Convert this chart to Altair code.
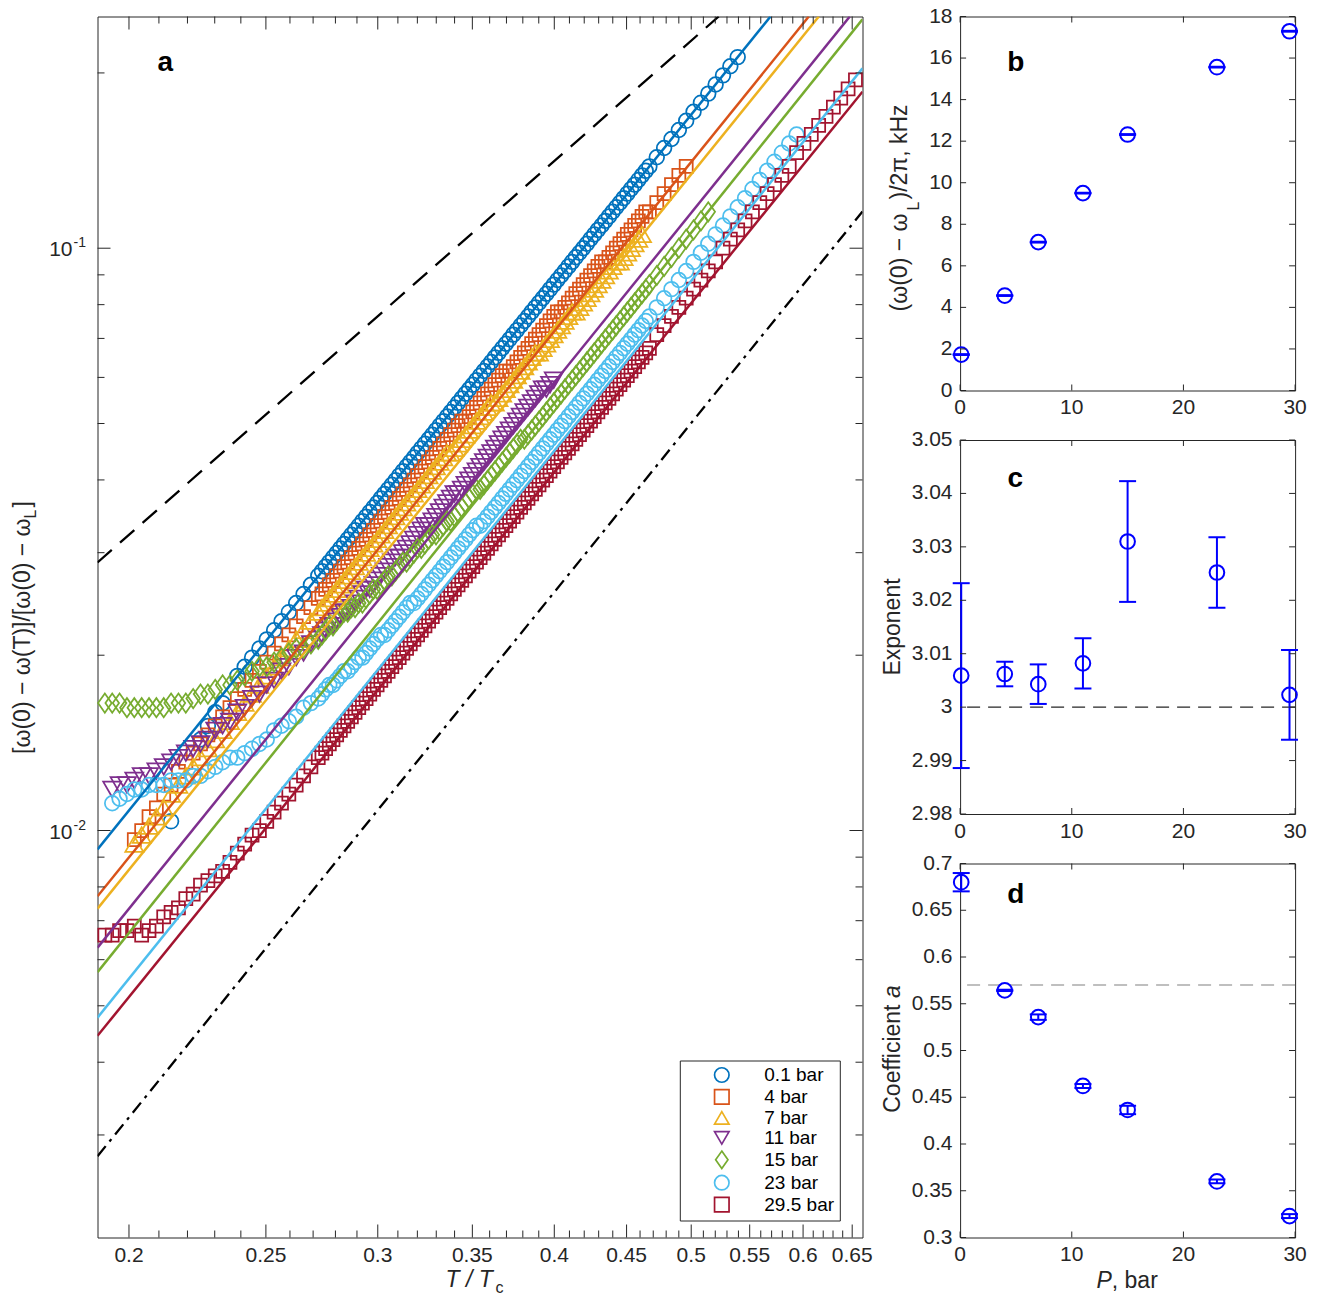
import altair as alt
import pandas as pd

FONT = "Liberation Sans"
INK = "#262626"

# ------------------------------------------------------------------ panel a data
series_labels = ["0.1 bar", "4 bar", "7 bar", "11 bar", "15 bar", "23 bar", "29.5 bar"]

# common temperature grid T/Tc (each series uses a contiguous part of it)
T_grid = [
    0.19000, 0.19229, 0.19461, 0.19696, 0.19934, 0.20174, 0.20418, 0.20664, 0.20913, 0.21165,
    0.21421, 0.21679, 0.21941, 0.22206, 0.22473, 0.22745, 0.23019, 0.23297, 0.23578, 0.23862,
    0.24150, 0.24442, 0.24736, 0.25035, 0.25337, 0.25643, 0.25952, 0.26265, 0.26582, 0.26903,
    0.27227, 0.27556, 0.27888, 0.28225, 0.28565, 0.28910, 0.29259, 0.29612, 0.29969, 0.30330,
    0.30696, 0.31067, 0.31442, 0.31821, 0.32205, 0.32593, 0.32987, 0.33385, 0.33787, 0.34195,
    0.34608, 0.35025, 0.35447, 0.35875, 0.36308, 0.36746, 0.37189, 0.37639, 0.38093, 0.38552,
    0.39017, 0.39488, 0.39964, 0.40446, 0.40934, 0.41428, 0.41928, 0.42434, 0.42946, 0.43464,
    0.43988, 0.44519, 0.45056, 0.45600, 0.46150, 0.46706, 0.47270, 0.47840, 0.48417, 0.49002,
    0.49593, 0.50191, 0.50796, 0.51409, 0.52030, 0.52658, 0.53293, 0.53936, 0.54587, 0.55246,
    0.55912, 0.56586, 0.57269, 0.57960, 0.58659, 0.59367, 0.60083, 0.60808, 0.61542, 0.62285,
    0.63036, 0.63797, 0.64566, 0.65345,
]
start_index = [10, 5, 5, 2, 1, 2, 1]

# intermediate temperatures of the denser mid-range sampling (0.274 ... 0.464)
T_mid = [
    0.27391, 0.27722, 0.28056, 0.28395, 0.28737, 0.29084, 0.29435, 0.29790, 0.30149, 0.30512,
    0.30881, 0.31254, 0.31631, 0.32012, 0.32399, 0.32789, 0.33185, 0.33586, 0.33990, 0.34401,
    0.34816, 0.35236, 0.35660, 0.36091, 0.36526, 0.36967, 0.37413, 0.37865, 0.38322, 0.38784,
    0.39252, 0.39725, 0.40204, 0.40689, 0.41180, 0.41677, 0.42180, 0.42689, 0.43204, 0.43725,
    0.44253, 0.44787, 0.45327, 0.45874, 0.46428,
]

ratio_01bar = [
    0.01037, None, None, None, 0.01433, 0.01512, 0.01596, 0.01655, None,
    0.01843, 0.01911, 0.01981, 0.02054, 0.02129, 0.02207, 0.02288, 0.02371, 0.02458, 0.02548,
    0.02642, 0.02738, 0.02839, 0.02943, 0.03051, 0.03162, 0.03278, 0.03398, 0.03523, 0.03652,
    0.03786, 0.03924, 0.04068, 0.04217, 0.04371, 0.04532, 0.04698, 0.04870, 0.05048, 0.05233,
    0.05425, 0.05623, 0.05829, 0.06043, 0.06264, 0.06494, 0.06732, 0.06978, 0.07234, 0.07499,
    0.07774, 0.08058, 0.08354, 0.08660, 0.08977, 0.09306, 0.09647, 0.1000, 0.1037, 0.1075,
    0.1114, 0.1155, 0.1197, 0.1241, 0.1286, 0.1334, 0.1382, 0.1433, 0.1486, 0.1540,
    0.1596, 0.1655, 0.1715, 0.1778, 0.1843, 0.1911, 0.1981, 0.2054, 0.2129,
]
ratio_4bar = [
    0.009647, 0.01000, 0.01056, 0.01094, 0.01155, 0.01197, 0.01264, 0.01310, 0.01358, 0.01408,
    0.01459, 0.01513, 0.01568, 0.01625, 0.01685, 0.01747, 0.01811, 0.01877, 0.01946, 0.02017,
    0.02091, 0.02167, 0.02247, 0.02329, 0.02414, 0.02503, 0.02595, 0.02690, 0.02788, 0.02890,
    0.02996, 0.03106, 0.03220, 0.03338, 0.03460, 0.03587, 0.03718, 0.03854, 0.03995, 0.04142,
    0.04294, 0.04451, 0.04614, 0.04783, 0.04958, 0.05048, 0.05233, 0.05425, 0.05623, 0.05829,
    0.06043, 0.06153, 0.06378, 0.06612, 0.06854, 0.07105, 0.07365, 0.07635, 0.07774, 0.08058,
    0.08354, 0.08660, 0.08977, 0.09306, 0.09475, 0.09822, 0.1018, 0.1056, 0.1094, 0.1134,
    0.1155, 0.1197, 0.1241, 0.1286, 0.1334, 0.1382,
]
ratio_7bar = [
    0.009475, 0.009822, 0.01018, 0.01056, 0.01094, 0.01155, 0.01197, 0.01241, 0.01286, 0.01334,
    0.01382, 0.01433, 0.01486, 0.01540, 0.01596, 0.01655, 0.01715, 0.01778, 0.01843, 0.01911,
    0.01981, 0.02054, 0.02129, 0.02207, 0.02288, 0.02371, 0.02458, 0.02548, 0.02642, 0.02738,
    0.02839, 0.02943, 0.03051, 0.03162, 0.03278, 0.03398, 0.03523, 0.03652, 0.03786, 0.03924,
    0.04068, 0.04217, 0.04371, 0.04451, 0.04614, 0.04783, 0.04958, 0.05140, 0.05328, 0.05425,
    0.05623, 0.05829, 0.06043, 0.06264, 0.06494, 0.06612, 0.06854, 0.07105, 0.07365, 0.07635,
    0.07774, 0.08058, 0.08354, 0.08660, 0.08977, 0.09306, 0.09475, 0.09822, 0.1018, 0.1056,
]
ratio_11bar = [
    0.01176, 0.01197, 0.01197, 0.01219, 0.01241, 0.01241, 0.01264, 0.01286, 0.01310, 0.01334,
    0.01358, 0.01382, 0.01408, 0.01433, 0.01486, 0.01513, 0.01540, 0.01596, 0.01625, 0.01685,
    0.01715, 0.01778, 0.01811, 0.01877, 0.01911, 0.01981, 0.02017, 0.02091, 0.02129, 0.02207,
    0.02247, 0.02329, 0.02371, 0.02458, 0.02548, 0.02595, 0.02690, 0.02788, 0.02890, 0.02943,
    0.03051, 0.03162, 0.03278, 0.03338, 0.03460, 0.03587, 0.03718, 0.03786, 0.03924, 0.04068,
    0.04217, 0.04371, 0.04532, 0.04698, 0.04870, 0.05048, 0.05233, 0.05425, 0.05623, 0.05726,
    0.05935,
]
ratio_15bar = [
    0.01655, 0.01655, 0.01655, 0.01625, 0.01625, 0.01625, 0.01625, 0.01625, 0.01625, 0.01655,
    0.01655, 0.01655, 0.01685, 0.01715, 0.01715, 0.01747, 0.01778, 0.01778, 0.01811, 0.01843,
    0.01877, 0.01911, 0.01911, 0.01946, 0.01981, 0.02017, 0.02054, 0.02054, 0.02091, 0.02129,
    0.02207, 0.02247, 0.02329, 0.02371, 0.02414, 0.02458, 0.02548, 0.02595, 0.02690, 0.02738,
    0.02839, 0.02890, 0.02996, 0.03051, 0.03162, 0.03220, 0.03338, 0.03398, 0.03523, 0.03652,
    0.03786, 0.03854, 0.03995, 0.04142, 0.04294, 0.04451, 0.04614, 0.04698, 0.04870, 0.05048,
    0.05233, 0.05425, 0.05623, 0.05829, 0.06043, 0.06264, 0.06494, 0.06732, 0.06978, 0.07234,
    0.07499, 0.07774, 0.08058, 0.08354, 0.08660, 0.08977, 0.09306, 0.09647, 0.1000, 0.1037,
    0.1075, 0.1114, 0.1155,
]
ratio_23bar = [
    0.01114, 0.01134, 0.01155, 0.01176, 0.01176, 0.01197, 0.01197, 0.01197, 0.01219, 0.01219,
    0.01219, 0.01241, 0.01241, 0.01264, 0.01286, 0.01310, 0.01334, 0.01334, 0.01358, 0.01382,
    0.01408, 0.01433, 0.01486, 0.01513, 0.01540, 0.01568, 0.01625, 0.01655, 0.01685, 0.01747,
    0.01778, 0.01843, 0.01877, 0.01946, 0.01981, 0.02054, 0.02129, 0.02167, 0.02247, 0.02329,
    0.02414, 0.02458, 0.02548, 0.02642, 0.02738, 0.02839, 0.02943, 0.03051, 0.03162, 0.03278,
    0.03338, 0.03460, 0.03587, 0.03718, 0.03854, 0.03995, 0.04142, 0.04294, 0.04451, 0.04614,
    0.04783, 0.04958, 0.05140, 0.05328, 0.05523, 0.05726, 0.05935, 0.06153, 0.06378, 0.06612,
    0.06854, 0.07105, 0.07365, 0.07635, 0.07915, 0.08205, 0.08505, 0.08817, 0.09140, 0.09475,
    0.09822, 0.1018, 0.1056, 0.1094, 0.1134, 0.1176, 0.1219, 0.1264, 0.1310, 0.1358,
    0.1408, 0.1459, 0.1513, 0.1568,
]
ratio_295bar = [
    0.006612, 0.006612, 0.006732, 0.006732, 0.006854, 0.006612, 0.006732, 0.006854, 0.007105, 0.007234,
    0.007365, 0.007635, 0.007774, 0.008058, 0.008205, 0.008354, 0.008505, 0.008817, 0.009140, 0.009475,
    0.009822, 0.01000, 0.01037, 0.01075, 0.01114, 0.01155, 0.01197, 0.01241, 0.01286, 0.01334,
    0.01382, 0.01433, 0.01486, 0.01540, 0.01596, 0.01655, 0.01715, 0.01778, 0.01843, 0.01911,
    0.01981, 0.02054, 0.02129, 0.02207, 0.02288, 0.02371, 0.02458, 0.02548, 0.02642, 0.02738,
    0.02839, 0.02943, 0.03051, 0.03162, 0.03278, 0.03398, 0.03523, 0.03652, 0.03786, 0.03924,
    0.04068, 0.04217, 0.04371, 0.04532, 0.04698, 0.04870, 0.05048, 0.05233, 0.05425, 0.05623,
    0.05829, 0.06043, 0.06264, 0.06494, 0.06732, 0.07105, 0.07365, 0.07635, 0.07915, 0.08205,
    0.08505, 0.08817, 0.09140, 0.09475, 0.1000, 0.1037, 0.1075, 0.1114, 0.1155, 0.1197,
    0.1241, 0.1286, 0.1334, 0.1382, 0.1459, 0.1513, 0.1568, 0.1625, 0.1685, 0.1747,
    0.1811, 0.1877, 0.1946,
]
ratio_series = [ratio_01bar, ratio_4bar, ratio_7bar, ratio_11bar, ratio_15bar, ratio_23bar, ratio_295bar]

# values at the intermediate temperatures T_mid (same series order)
mid_01bar = [
    0.02788, 0.02890, 0.02996, 0.03106, 0.03220, 0.03338, 0.03460, 0.03587, 0.03718, 0.03854,
    0.03995, 0.04142, 0.04294, 0.04451, 0.04614, 0.04783, 0.04958, 0.05140, 0.05328, 0.05523,
    0.05726, 0.05935, 0.06153, 0.06378, 0.06612, 0.06854, 0.07105, 0.07365, 0.07635, 0.07915,
    0.08205, 0.08505, 0.08817, 0.09140, 0.09475, 0.09822, 0.1018, 0.1056, 0.1094, 0.1134,
    0.1176, 0.1219, 0.1264, 0.1310, 0.1358,
]
mid_4bar = [
    0.02548, 0.02642, 0.02738, 0.02839, 0.02943, 0.03051, 0.03162, 0.03278, 0.03398, 0.03523,
    0.03652, 0.03786, 0.03924, 0.04068, 0.04217, 0.04371, 0.04532, 0.04698, 0.04870, 0.05048,
    0.05140, 0.05328, 0.05523, 0.05726, 0.05935, 0.06153, 0.06264, 0.06494, 0.06732, 0.06978,
    0.07234, 0.07499, 0.07774, 0.07915, 0.08205, 0.08505, 0.08817, 0.09140, 0.09475, 0.09647,
    0.1000, 0.1037, 0.1075, 0.1114, 0.1155,
]
mid_7bar = [
    0.02414, 0.02503, 0.02595, 0.02690, 0.02788, 0.02890, 0.02996, 0.03106, 0.03220, 0.03338,
    0.03460, 0.03587, 0.03718, 0.03854, 0.03995, 0.04142, 0.04294, 0.04451, 0.04532, 0.04698,
    0.04870, 0.05048, 0.05233, 0.05425, 0.05523, 0.05726, 0.05935, 0.06153, 0.06378, 0.06612,
    0.06732, 0.06978, 0.07234, 0.07499, 0.07774, 0.07915, 0.08205, 0.08505, 0.08817, 0.09140,
    0.09475, 0.09647, 0.1000, 0.1037,
]
mid_11bar = [
    0.02167, 0.02247, 0.02288, 0.02371, 0.02414, 0.02503, 0.02595, 0.02642, 0.02738, 0.02839,
    0.02943, 0.02996, 0.03106, 0.03220, 0.03338, 0.03398, 0.03523, 0.03652, 0.03786, 0.03854,
    0.03995, 0.04142, 0.04294, 0.04451, 0.04614, 0.04783, 0.04958, 0.05140, 0.05328, 0.05523,
    0.05726, 0.05829,
]
mid_15bar = [
    0.02167, 0.02247, 0.02288, 0.02371, 0.02414, 0.02458, 0.02503, 0.02595, 0.02642, 0.02738,
    0.02788, 0.02890, 0.02943, 0.03051, 0.03106, 0.03220, 0.03278, 0.03398, 0.03460, 0.03587,
    0.03718, 0.03854, 0.03924, 0.04068, 0.04217, 0.04371, 0.04532, 0.04698, 0.04783, 0.04958,
    0.05140, 0.05328, 0.05523, 0.05726, 0.05935, 0.06153, 0.06378, 0.06612, 0.06854, 0.07105,
    0.07365, 0.07635, 0.07915, 0.08205, 0.08505,
]
mid_23bar = [
    0.01715, 0.01778, 0.01811, 0.01877, 0.01911, 0.01981, 0.02017, 0.02091, 0.02167, 0.02207,
    0.02288, 0.02371, 0.02458, 0.02503, 0.02595, 0.02690, 0.02788, 0.02890, 0.02996, 0.03106,
    0.03220, 0.03338, 0.03398, 0.03523, 0.03652, 0.03786, 0.03924, 0.04068, 0.04217, 0.04371,
    0.04532, 0.04698, 0.04870, 0.05048, 0.05233, 0.05425, 0.05623, 0.05829, 0.06043, 0.06264,
    0.06494, 0.06732, 0.06978, 0.07234, 0.07499,
]
mid_295bar = [
    0.01358, 0.01408, 0.01459, 0.01513, 0.01568, 0.01625, 0.01685, 0.01747, 0.01811, 0.01877,
    0.01946, 0.02017, 0.02091, 0.02167, 0.02247, 0.02329, 0.02414, 0.02503, 0.02595, 0.02690,
    0.02788, 0.02890, 0.02996, 0.03106, 0.03220, 0.03338, 0.03460, 0.03587, 0.03718, 0.03854,
    0.03995, 0.04142, 0.04294, 0.04451, 0.04614, 0.04783, 0.04958, 0.05140, 0.05328, 0.05523,
    0.05726, 0.05935, 0.06153, 0.06378, 0.06612,
]
mid_series = [mid_01bar, mid_4bar, mid_7bar, mid_11bar, mid_15bar, mid_23bar, mid_295bar]

# power-law fits (end points of each straight line on the log-log plot)
fit_T_start = [0.19, 0.19, 0.19, 0.19, 0.19, 0.19, 0.19]
fit_ratio_start = [0.00928, 0.00771, 0.00734, 0.00629, 0.00571, 0.00477, 0.00444]
fit_T_end = [0.569, 0.6056, 0.6156, 0.6475, 0.661, 0.661, 0.661]
fit_ratio_end = [0.25, 0.25, 0.25, 0.25, 0.2472, 0.2037, 0.1857]

# reference power laws (black dashed and dash-dotted)
dashed_T = [0.19, 0.5229]
dashed_ratio = [0.02886, 0.25]
dashdot_T = [0.19, 0.661]
dashdot_ratio = [0.002758, 0.1156]

x_major = [0.2, 0.25, 0.3, 0.35, 0.4, 0.45, 0.5, 0.55, 0.6, 0.65]
x_major_labels = ["0.2", "0.25", "0.3", "0.35", "0.4", "0.45", "0.5", "0.55", "0.6", "0.65"]
x_minor = [0.21, 0.22, 0.23, 0.24, 0.26, 0.27, 0.28, 0.29, 0.31, 0.32, 0.33, 0.34,
           0.36, 0.37, 0.38, 0.39, 0.41, 0.42, 0.43, 0.44, 0.46, 0.47, 0.48, 0.49,
           0.51, 0.52, 0.53, 0.54, 0.56, 0.57, 0.58, 0.59, 0.61, 0.62, 0.63, 0.64]
y_major = [0.01, 0.1]
y_major_labels = ["10", "10"]
y_major_exp = ["-2", "-1"]
y_minor = [0.003, 0.004, 0.005, 0.006, 0.007, 0.008, 0.009,
           0.02, 0.03, 0.04, 0.05, 0.06, 0.07, 0.08, 0.09, 0.2]

# ------------------------------------------------------------------ panels b-d data
P_bar = [0.1, 4, 7, 11, 15, 23, 29.5]
shift_kHz = [1.73, 4.57, 7.14, 9.50, 12.32, 15.56, 17.29]
shift_err = [0.02, 0.02, 0.02, 0.02, 0.02, 0.02, 0.02]
exponent = [3.0059, 3.0062, 3.0043, 3.0082, 3.0310, 3.0252, 3.0023]
exponent_err = [0.0173, 0.0023, 0.0037, 0.0047, 0.0113, 0.0066, 0.0084]
coef_a = [0.680, 0.5643, 0.5357, 0.4621, 0.4364, 0.3600, 0.3229]
coef_err = [0.0098, 0.0007, 0.0029, 0.0021, 0.0045, 0.0021, 0.0021]
exponent_ref = [3.0]
coef_ref = [0.57]

P_ticks = [0, 10, 20, 30]
P_labels = ["0", "10", "20", "30"]
b_yticks = [0, 2, 4, 6, 8, 10, 12, 14, 16, 18]
b_ylabels = ["0", "2", "4", "6", "8", "10", "12", "14", "16", "18"]
c_yticks = [2.98, 2.99, 3.0, 3.01, 3.02, 3.03, 3.04, 3.05]
c_ylabels = ["2.98", "2.99", "3", "3.01", "3.02", "3.03", "3.04", "3.05"]
d_yticks = [0.3, 0.35, 0.4, 0.45, 0.5, 0.55, 0.6, 0.65, 0.7]
d_ylabels = ["0.3", "0.35", "0.4", "0.45", "0.5", "0.55", "0.6", "0.65", "0.7"]

# ------------------------------------------------------------------ styles
marker_colors = ["#0072BD", "#D95319", "#EDB120", "#7E2F8E", "#77AC30", "#4DBEEE", "#A2142F"]
marker_shapes = ["circle", "square", "triangle-up", "triangle-down",
                 "M0,-1.2L0.85,0L0,1.2L-0.85,0Z", "circle", "square"]
marker_sizes = [215, 169, 324, 324, 256, 215, 169]

W_A, H_A = 765, 1221
W_R, H_R = 335, 374

# ------------------------------------------------------------------ tables
rows = []
for i, (lab, k0, vals, mids) in enumerate(zip(series_labels, start_index, ratio_series, mid_series)):
    for j, v in enumerate(vals):
        if v is None:
            continue
        rows.append({"series": lab, "T": T_grid[k0 + j], "ratio": v, "msize": marker_sizes[i]})
    for j, v in enumerate(mids):
        rows.append({"series": lab, "T": T_mid[j], "ratio": v, "msize": marker_sizes[i]})
pts_df = pd.DataFrame(rows)

fit_rows = []
for lab, col, t0, r0, t1, r1 in zip(series_labels, marker_colors, fit_T_start,
                                    fit_ratio_start, fit_T_end, fit_ratio_end):
    fit_rows.append({"series": lab, "hex": col, "T": t0, "ratio": r0})
    fit_rows.append({"series": lab, "hex": col, "T": t1, "ratio": r1})
fit_df = pd.DataFrame(fit_rows)

dashed_df = pd.DataFrame({"T": dashed_T, "ratio": dashed_ratio})
dashdot_df = pd.DataFrame({"T": dashdot_T, "ratio": dashdot_ratio})


def text(txt, x, y, size=23, angle=0, align="center", baseline="middle",
         weight="normal", style="normal", color=INK):
    return alt.Chart(pd.DataFrame({"t": [txt]})).mark_text(
        font=FONT, fontSize=size, angle=angle, align=align, baseline=baseline,
        fontWeight=weight, fontStyle=style, color=color,
    ).encode(x=alt.value(x), y=alt.value(y), text="t:N")


def tick_rules(vals, channel, scale, length, w, h):
    d = pd.DataFrame({"tv": vals})
    base = alt.Chart(d).mark_rule(color=INK, strokeWidth=1)
    if channel == "x":
        enc = alt.X("tv:Q", scale=scale, axis=None)
        return [base.encode(x=enc, y=alt.value(h), y2=alt.value(h - length)),
                base.encode(x=enc, y=alt.value(0), y2=alt.value(length))]
    enc = alt.Y("tv:Q", scale=scale, axis=None)
    return [base.encode(y=enc, x=alt.value(0), x2=alt.value(length)),
            base.encode(y=enc, x=alt.value(w), x2=alt.value(w - length))]


def x_tick_labels(vals, labs, scale, y):
    d = pd.DataFrame({"v": vals, "t": labs})
    return alt.Chart(d).mark_text(font=FONT, fontSize=21, color=INK, align="center",
                                  baseline="top").encode(
        x=alt.X("v:Q", scale=scale, axis=None), y=alt.value(y), text="t:N")


def y_tick_labels(vals, labs, scale, x, dy=0):
    d = pd.DataFrame({"v": vals, "t": labs})
    return alt.Chart(d).mark_text(font=FONT, fontSize=21, color=INK, align="right",
                                  baseline="middle", dy=dy).encode(
        y=alt.Y("v:Q", scale=scale, axis=None), x=alt.value(x), text="t:N")


# ------------------------------------------------------------------ panel a
xs = alt.Scale(type="log", domain=[0.19, 0.661], nice=False)
ys = alt.Scale(type="log", domain=[0.002, 0.25], nice=False)

legend = alt.Legend(
    title=None, orient="none", legendX=582.3, legendY=1044, direction="vertical",
    fillColor="white", strokeColor=INK, padding=5, rowPadding=-1.1, symbolOffset=27.5,
    labelOffset=33, labelFont=FONT, labelFontSize=19, labelColor="black",
    symbolStrokeWidth=1.7, symbolSize=210, labelLimit=300,
)

points = alt.Chart(pts_df).mark_point(filled=False, strokeWidth=1.75, opacity=1).encode(
    x=alt.X("T:Q", scale=xs, axis=None),
    y=alt.Y("ratio:Q", scale=ys, axis=None),
    color=alt.Color("series:N", scale=alt.Scale(domain=series_labels, range=marker_colors), legend=legend),
    shape=alt.Shape("series:N", scale=alt.Scale(domain=series_labels, range=marker_shapes), legend=legend),
    size=alt.Size("msize:Q", scale=None),
)

fits = alt.Chart(fit_df).mark_line(clip=True, strokeWidth=2.5).encode(
    x=alt.X("T:Q", scale=xs, axis=None),
    y=alt.Y("ratio:Q", scale=ys, axis=None),
    detail="series:N",
    stroke=alt.Stroke("hex:N", scale=None),
)
dashed = alt.Chart(dashed_df).mark_line(clip=True, color="black", strokeWidth=2.3,
                                        strokeDash=[19, 11]).encode(
    x=alt.X("T:Q", scale=xs, axis=None), y=alt.Y("ratio:Q", scale=ys, axis=None))
dashdot = alt.Chart(dashdot_df).mark_line(clip=True, color="black", strokeWidth=2.3,
                                          strokeDash=[13, 6, 3, 6]).encode(
    x=alt.X("T:Q", scale=xs, axis=None), y=alt.Y("ratio:Q", scale=ys, axis=None))

exp_labels = alt.Chart(pd.DataFrame({"v": y_major, "t": y_major_exp})).mark_text(
    font=FONT, fontSize=14, align="left", baseline="middle", dy=-5, color=INK
).encode(x=alt.value(-24), y=alt.Y("v:Q", scale=ys, axis=None), text="t:N")

layers_a = [points, fits, dashed, dashdot, exp_labels,
            x_tick_labels(x_major, x_major_labels, xs, H_A + 7.5),
            y_tick_labels(y_major, y_major_labels, ys, -25, dy=2)]
layers_a += tick_rules(x_major, "x", xs, 13, W_A, H_A)
layers_a += tick_rules(x_minor, "x", xs, 7, W_A, H_A)
layers_a += tick_rules(y_major, "y", ys, 13, W_A, H_A)
layers_a += tick_rules(y_minor, "y", ys, 7, W_A, H_A)
layers_a += [
    text("a", 67.8, 54, size=28, weight="bold", baseline="alphabetic", color="black"),
    text("[ω(0) − ω(T)]/[ω(0) − ω", -74.7, 502, angle=270, align="right"),
    text("L", -66.5, 502, size=16, angle=270, align="left"),
    text("]", -74.7, 491, angle=270, align="left"),
    text("T / T", 395.3, 1263, style="italic", align="right"),
    text("c", 398, 1271, size=16, align="left"),
]
panel_a = alt.layer(*layers_a).properties(width=W_A, height=H_A)

# ------------------------------------------------------------------ panels b-d
px = alt.Scale(domain=[0, 30], nice=False)
BLUE = "#0000FF"


def err_panel(vals, errs, yscale, yticks, ylabels, extra):
    d = pd.DataFrame({"P": P_bar, "v": vals,
                      "lo": [v - e for v, e in zip(vals, errs)],
                      "hi": [v + e for v, e in zip(vals, errs)]})
    pts_r = alt.Chart(d).mark_point(shape="circle", filled=False, size=215, strokeWidth=2,
                                    opacity=1, color=BLUE).encode(
        x=alt.X("P:Q", scale=px, axis=None), y=alt.Y("v:Q", scale=yscale, axis=None))
    bar = alt.Chart(d).mark_rule(color=BLUE, strokeWidth=2).encode(
        x=alt.X("P:Q", scale=px, axis=None), y=alt.Y("lo:Q", scale=yscale, axis=None), y2="hi:Q")
    cap_lo = alt.Chart(d).mark_tick(orient="horizontal", size=17, thickness=2, color=BLUE, opacity=1).encode(
        x=alt.X("P:Q", scale=px, axis=None), y=alt.Y("lo:Q", scale=yscale, axis=None))
    cap_hi = alt.Chart(d).mark_tick(orient="horizontal", size=17, thickness=2, color=BLUE, opacity=1).encode(
        x=alt.X("P:Q", scale=px, axis=None), y=alt.Y("hi:Q", scale=yscale, axis=None))
    layers = extra + [bar, cap_lo, cap_hi, pts_r,
                      x_tick_labels(P_ticks, P_labels, px, H_R + 6.5),
                      y_tick_labels(yticks, ylabels, yscale, -7.6)]
    layers += tick_rules(P_ticks, "x", px, 6, W_R, H_R)
    layers += tick_rules(yticks, "y", yscale, 6, W_R, H_R)
    return layers


bs = alt.Scale(domain=[0, 18], nice=False)
layers_b = err_panel(shift_kHz, shift_err, bs, b_yticks, b_ylabels, [])
layers_b += [
    text("b", 55.7, 54, size=28, weight="bold", baseline="alphabetic", color="black"),
    text("(ω(0) − ω", -60.3, 197, angle=270, align="right"),
    text("L", -46, 194, size=16, angle=270, align="left"),
    text(")/2π, kHz", -60.3, 183, angle=270, align="left"),
]
panel_b = alt.layer(*layers_b).properties(width=W_R, height=H_R)

cs = alt.Scale(domain=[2.98, 3.05], nice=False)
ref_c = alt.Chart(pd.DataFrame({"v": exponent_ref})).mark_rule(
    color=INK, strokeWidth=1.2, strokeDash=[13, 8]).encode(y=alt.Y("v:Q", scale=cs, axis=None))
layers_c = err_panel(exponent, exponent_err, cs, c_yticks, c_ylabels, [ref_c])
layers_c += [
    text("c", 55.2, 47.4, size=28, weight="bold", baseline="alphabetic", color="black"),
    text("Exponent", -67.3, 187, angle=270),
]
panel_c = alt.layer(*layers_c).properties(width=W_R, height=H_R)

ds = alt.Scale(domain=[0.3, 0.7], nice=False)
ref_d = alt.Chart(pd.DataFrame({"v": coef_ref})).mark_rule(
    color="#808080", strokeWidth=1.1, strokeDash=[13, 8]).encode(y=alt.Y("v:Q", scale=ds, axis=None))
layers_d = err_panel(coef_a, coef_err, ds, d_yticks, d_ylabels, [ref_d])
layers_d += [
    text("d", 55.7, 39, size=28, weight="bold", baseline="alphabetic", color="black"),
    text("Coefficient", -67.3, 141, angle=270, align="right"),
    text("a", -67.3, 134.6, angle=270, align="left", style="italic"),
    text("P", 151.7, 417, align="right", style="italic"),
    text(", bar", 151.7, 417, align="left"),
]
panel_d = alt.layer(*layers_d).properties(width=W_R, height=H_R)

right = alt.vconcat(panel_b, panel_c, panel_d, spacing=49.5, bounds="flush")
chart = alt.hconcat(panel_a, right, spacing=97.6, bounds="flush").properties(
    padding={"left": 10.5, "top": 4.5, "right": 5, "bottom": 0},
    background="white",
).configure_view(stroke=INK, strokeWidth=1)

chart.save("out.html", embed_options={"renderer": "svg", "actions": False})
